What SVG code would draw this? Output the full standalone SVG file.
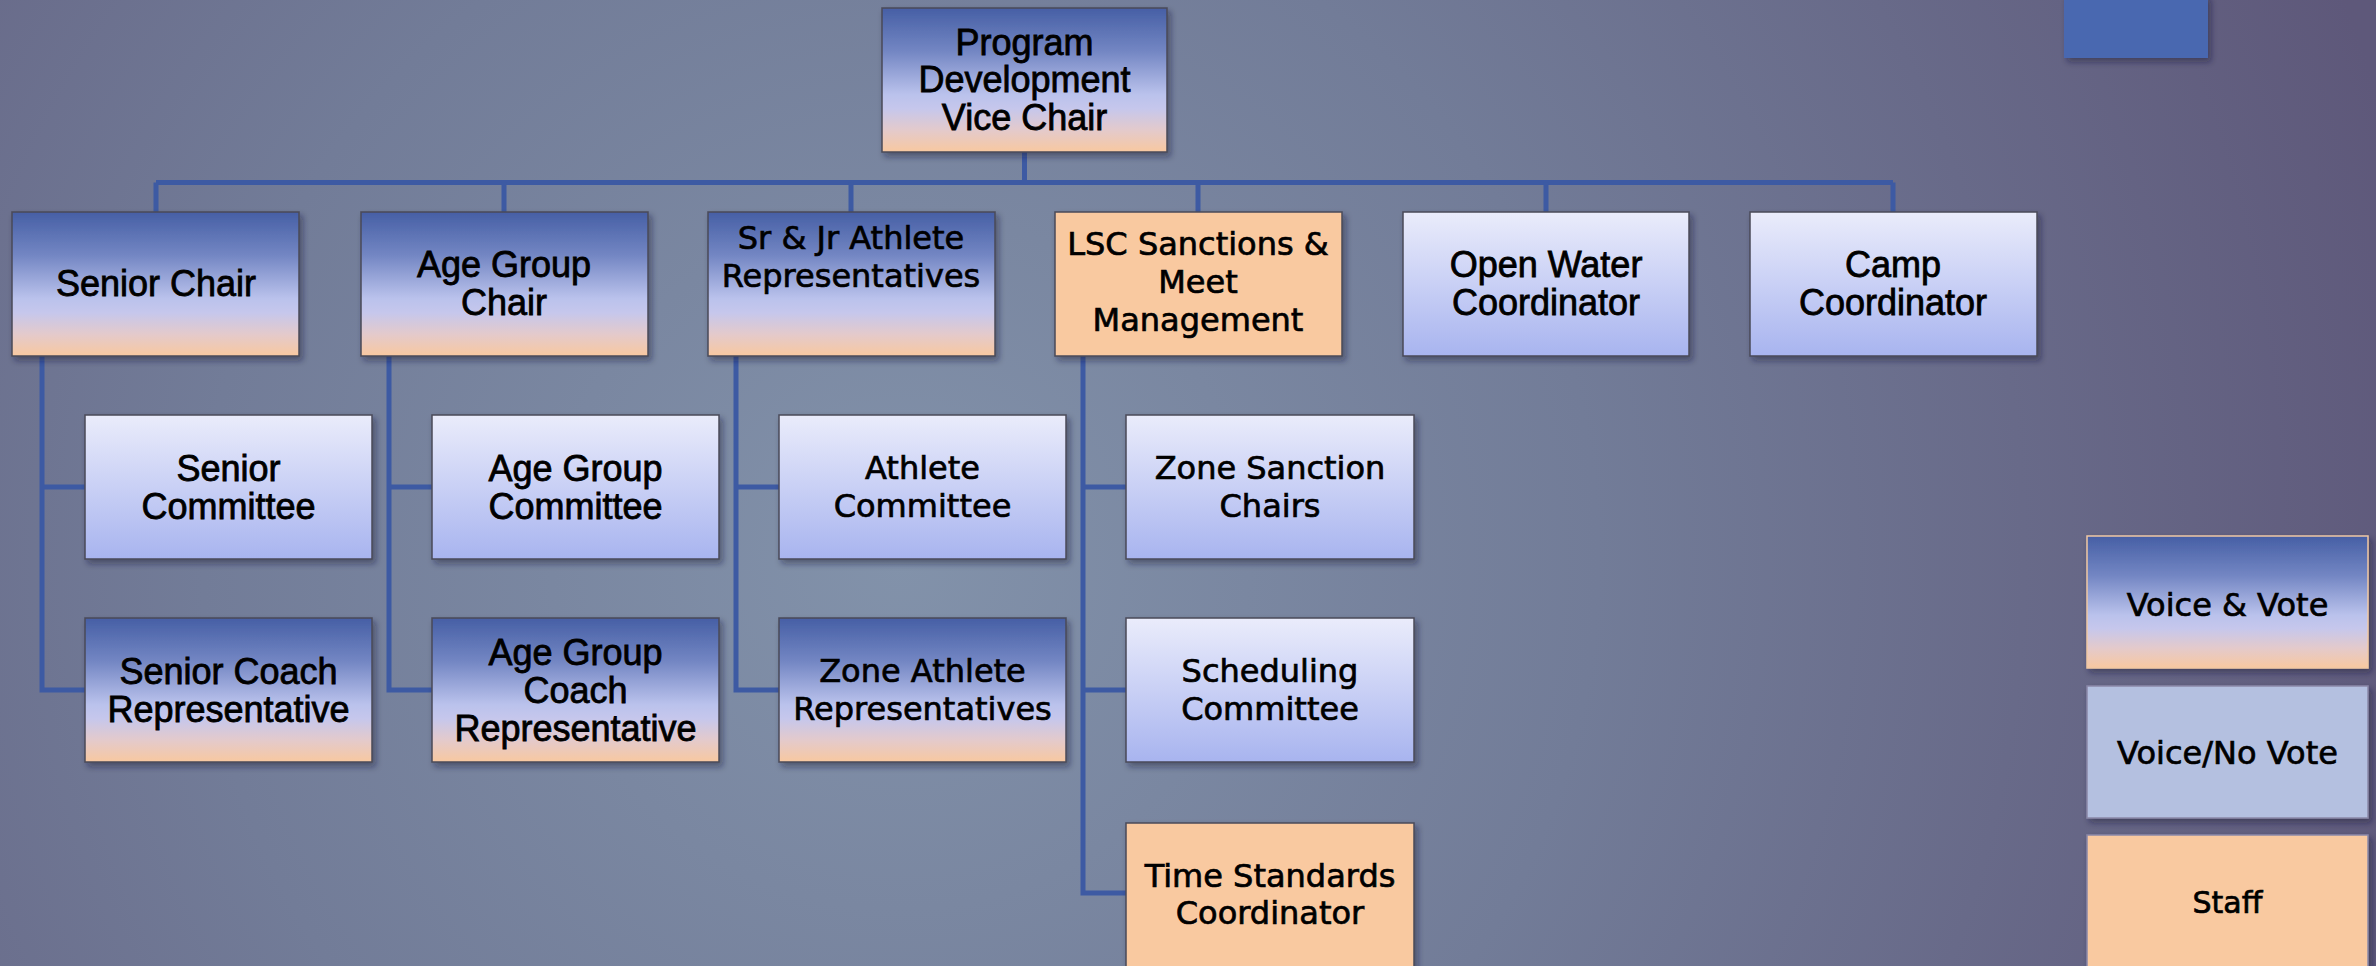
<svg xmlns="http://www.w3.org/2000/svg" width="2376" height="966" viewBox="0 0 2376 966">
<defs>
<radialGradient id="bg" cx="900" cy="560" r="1550" gradientUnits="userSpaceOnUse">
<stop offset="0" stop-color="#8292aa"/>
<stop offset="0.45" stop-color="#727c98"/>
<stop offset="1" stop-color="#5e587a"/>
</radialGradient>
<linearGradient id="gvv" x1="0" y1="0" x2="0" y2="1">
<stop offset="0" stop-color="#465fa5"/>
<stop offset="0.3" stop-color="#7386c3"/>
<stop offset="0.6" stop-color="#bac2ec"/>
<stop offset="0.7" stop-color="#c6c7ec"/>
<stop offset="0.85" stop-color="#e4cacb"/>
<stop offset="1" stop-color="#f8c8a0"/>
</linearGradient>
<linearGradient id="glt" x1="0" y1="0" x2="0" y2="1">
<stop offset="0" stop-color="#eaecfb"/>
<stop offset="1" stop-color="#a8b4ef"/>
</linearGradient>
<filter id="sh" x="-10%" y="-10%" width="125%" height="130%">
<feDropShadow dx="3" dy="4" stdDeviation="3" flood-color="#1a1a30" flood-opacity="0.45"/>
</filter>
</defs>
<style>
.box{stroke:#4a4a58;stroke-width:1.5;filter:url(#sh)}
.vv{fill:url(#gvv)}
.lt{fill:url(#glt)}
.st{fill:#f9c9a0}
.a{font-family:"Liberation Sans",Arial,sans-serif;font-size:36px;fill:#000;stroke:#000;stroke-width:0.8;text-anchor:middle;dominant-baseline:central}
.g{font-family:"DejaVu Sans","Liberation Sans",sans-serif;font-size:32px;fill:#000;stroke:#000;stroke-width:0.7;text-anchor:middle;dominant-baseline:central}
.conn{fill:none;stroke:#3d5aa3;stroke-width:5}
</style>
<rect x="0" y="0" width="2376" height="966" fill="url(#bg)"/>
<rect x="2064" y="-5" width="144" height="63" fill="#4a68b0" filter="url(#sh)"/>

<g id="connectors" class="conn">
<path d="M1024.5 152 V182.5"/>
<path d="M156 182.5 H1893"/>
<path d="M156 182.5 V212 M504 182.5 V212 M851 182.5 V212 M1198 182.5 V212 M1546 182.5 V212 M1893 182.5 V212"/>
<path d="M42 356 V690 H85 M42 487 H85"/>
<path d="M389 356 V690 H432 M389 487 H432"/>
<path d="M736 356 V690 H779 M736 487 H779"/>
<path d="M1083 356 V893 H1126 M1083 487 H1126 M1083 690 H1126"/>
</g>

<g id="root">
<rect class="box vv" x="882" y="8" width="285" height="144"/>
<text class="a" x="1024.5" y="42">Program</text>
<text class="a" x="1024.5" y="79">Development</text>
<text class="a" x="1024.5" y="117">Vice Chair</text>
</g>

<g id="senior-chair">
<rect class="box vv" x="12" y="212" width="287" height="144"/>
<text class="a" x="156" y="283">Senior Chair</text>
</g>
<g id="age-group-chair">
<rect class="box vv" x="361" y="212" width="287" height="144"/>
<text class="a" x="504" y="264">Age Group</text>
<text class="a" x="504" y="302">Chair</text>
</g>
<g id="athlete-reps">
<rect class="box vv" x="708" y="212" width="287" height="144"/>
<text class="g" x="851" y="238">Sr &amp; Jr Athlete</text>
<text class="g" x="851" y="276">Representatives</text>
</g>
<g id="lsc-sanctions">
<rect class="box st" x="1055" y="212" width="287" height="144"/>
<text class="g" x="1198" y="244">LSC Sanctions &amp;</text>
<text class="g" x="1198" y="282">Meet</text>
<text class="g" x="1198" y="320">Management</text>
</g>
<g id="open-water">
<rect class="box lt" x="1403" y="212" width="286" height="144"/>
<text class="a" x="1546" y="264">Open Water</text>
<text class="a" x="1546" y="302">Coordinator</text>
</g>
<g id="camp">
<rect class="box lt" x="1750" y="212" width="287" height="144"/>
<text class="a" x="1893" y="264">Camp</text>
<text class="a" x="1893" y="302">Coordinator</text>
</g>

<g id="senior-committee">
<rect class="box lt" x="85" y="415" width="287" height="144"/>
<text class="a" x="228.5" y="468">Senior</text>
<text class="a" x="228.5" y="506">Committee</text>
</g>
<g id="senior-coach-rep">
<rect class="box vv" x="85" y="618" width="287" height="144"/>
<text class="a" x="228.5" y="671">Senior Coach</text>
<text class="a" x="228.5" y="709">Representative</text>
</g>
<g id="age-group-committee">
<rect class="box lt" x="432" y="415" width="287" height="144"/>
<text class="a" x="575.5" y="468">Age Group</text>
<text class="a" x="575.5" y="506">Committee</text>
</g>
<g id="age-group-coach-rep">
<rect class="box vv" x="432" y="618" width="287" height="144"/>
<text class="a" x="575.5" y="652">Age Group</text>
<text class="a" x="575.5" y="690">Coach</text>
<text class="a" x="575.5" y="728">Representative</text>
</g>
<g id="athlete-committee">
<rect class="box lt" x="779" y="415" width="287" height="144"/>
<text class="g" x="922.5" y="468">Athlete</text>
<text class="g" x="922.5" y="506">Committee</text>
</g>
<g id="zone-athlete-reps">
<rect class="box vv" x="779" y="618" width="287" height="144"/>
<text class="g" x="922.5" y="671">Zone Athlete</text>
<text class="g" x="922.5" y="709">Representatives</text>
</g>
<g id="zone-sanction-chairs">
<rect class="box lt" x="1126" y="415" width="288" height="144"/>
<text class="g" x="1270" y="468">Zone Sanction</text>
<text class="g" x="1270" y="506">Chairs</text>
</g>
<g id="scheduling-committee">
<rect class="box lt" x="1126" y="618" width="288" height="144"/>
<text class="g" x="1270" y="671">Scheduling</text>
<text class="g" x="1270" y="709">Committee</text>
</g>
<g id="time-standards">
<rect class="box st" x="1126" y="823" width="288" height="150"/>
<text class="g" x="1270" y="876">Time Standards</text>
<text class="g" x="1270" y="913">Coordinator</text>
</g>

<g id="legend-voice-vote">
<rect class="vv" x="2087" y="536" width="281" height="132" stroke="#f0c8a4" stroke-width="1.5" filter="url(#sh)"/>
<text class="g" x="2227.5" y="605">Voice &amp; Vote</text>
</g>
<g id="legend-voice-no-vote">
<rect x="2087" y="686" width="281" height="132" fill="#b4c0e0" stroke="#8a88a8" stroke-width="1.5" filter="url(#sh)"/>
<text class="g" x="2227.5" y="753">Voice/No Vote</text>
</g>
<g id="legend-staff">
<rect x="2087" y="835" width="281" height="140" fill="#f9c9a0" stroke="#8a88a8" stroke-width="1.5" filter="url(#sh)"/>
<text class="g" x="2227.5" y="902" style="font-size:30px">Staff</text>
</g>
</svg>
